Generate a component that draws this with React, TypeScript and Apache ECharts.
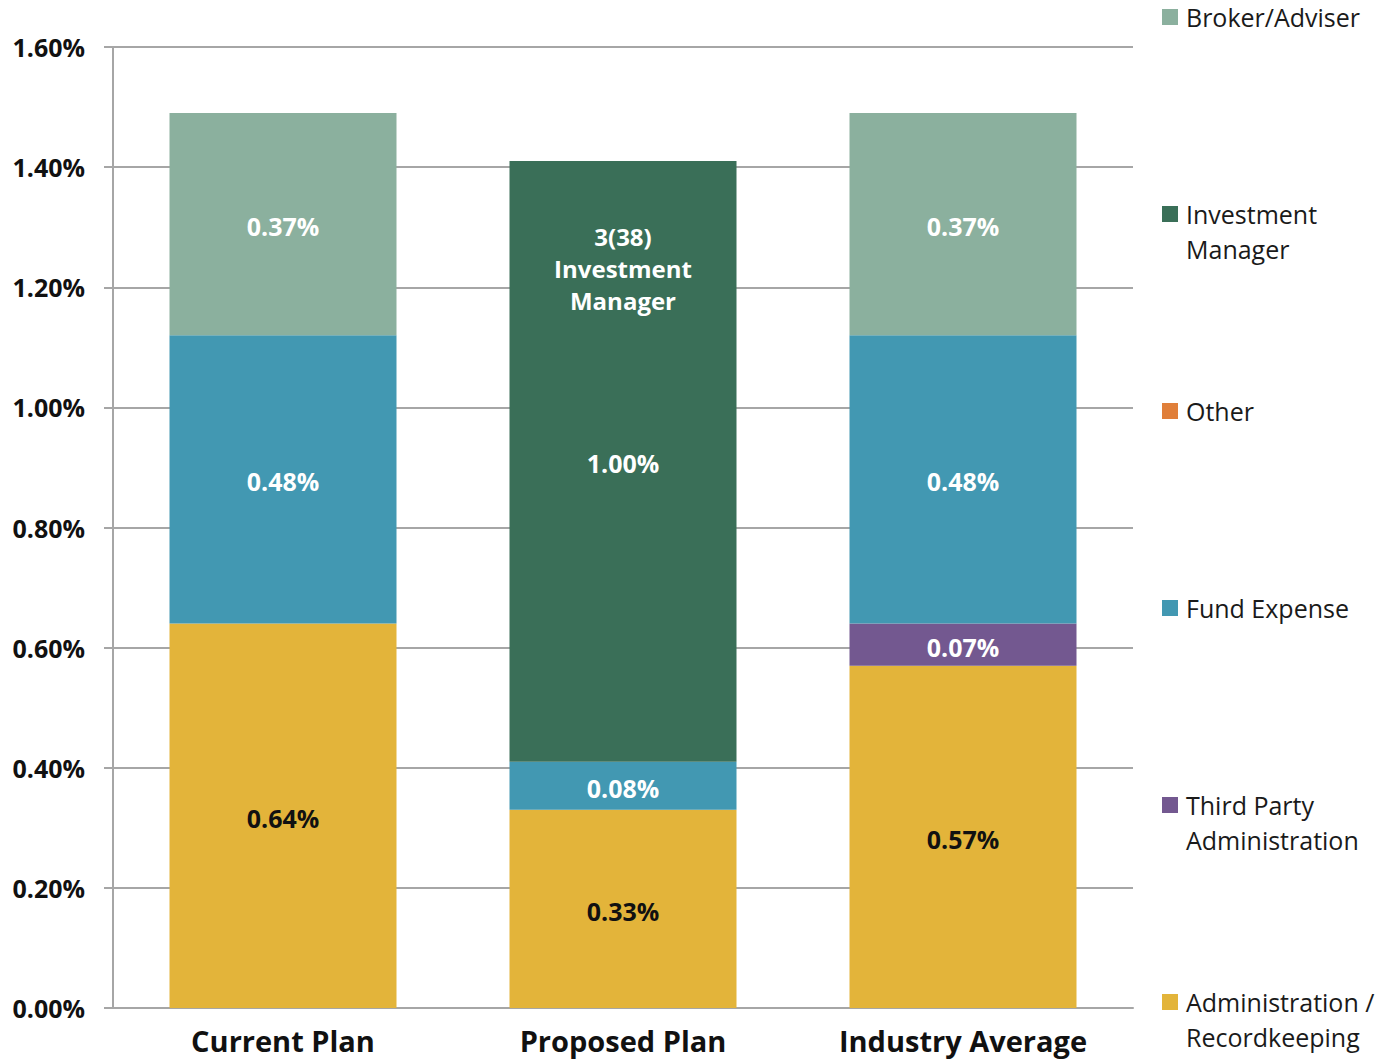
import React, { useEffect, useRef } from "react";
import * as echarts from "echarts";

const categories = ["Current Plan", "Proposed Plan", "Industry Average"];
const adminRecordkeeping = [0.64, 0.33, 0.57];
const thirdPartyAdmin = [null, null, 0.07];
const fundExpense = [0.48, 0.08, 0.48];
const otherFees = [null, null, null];
const investmentManager = [null, 1.0, null];
const brokerAdviser = [0.37, null, 0.37];
const yTicks = { min: 0, max: 1.6, interval: 0.2 };
const annotation = "3(38)\nInvestment\nManager";

const FONT = "'Open Sans', 'Noto Sans', sans-serif";

const seriesDefs = [
  { name: "Administration / Recordkeeping", legendText: "Administration /\nRecordkeeping", data: adminRecordkeeping, color: "#E3B43A", labelColor: "#111111" },
  { name: "Third Party Administration", legendText: "Third Party\nAdministration", data: thirdPartyAdmin, color: "#735890", labelColor: "#ffffff" },
  { name: "Fund Expense", legendText: "Fund Expense", data: fundExpense, color: "#4298B2", labelColor: "#ffffff" },
  { name: "Other", legendText: "Other", data: otherFees, color: "#E07F3A", labelColor: "#ffffff" },
  { name: "Investment Manager", legendText: "Investment\nManager", data: investmentManager, color: "#3A6F58", labelColor: "#ffffff" },
  { name: "Broker/Adviser", legendText: "Broker/Adviser", data: brokerAdviser, color: "#8BB09E", labelColor: "#ffffff" },
];

const legendOrder = ["Broker/Adviser", "Investment Manager", "Other", "Fund Expense", "Third Party Administration", "Administration / Recordkeeping"];

export default function App() {
  const ref = useRef<HTMLDivElement>(null);
  useEffect(() => {
    if (!ref.current) return;
    const chart = echarts.init(ref.current, null, { renderer: "svg" });
    const lineH = 35;
    const legendGraphics: any[] = [];
    legendOrder.forEach((name, i) => {
      const def = seriesDefs.find((d) => d.name === name)!;
      const cy = 17 + i * 197;
      legendGraphics.push({
        type: "rect",
        shape: { x: 1162, y: cy - 8, width: 16, height: 16 },
        style: { fill: def.color },
      });
      legendGraphics.push({
        type: "text",
        x: 1186,
        y: cy - lineH / 2,
        style: {
          text: def.legendText,
          fill: "#1a1a1a",
          font: `25px ${FONT}`,
          lineHeight: lineH,
          align: "left",
          verticalAlign: "top",
        },
      });
    });

    const series: any[] = seriesDefs.map((d) => ({
      name: d.name,
      type: "bar",
      stack: "total",
      data: d.data,
      barWidth: 227,
      itemStyle: { color: d.color },
      label: {
        show: true,
        position: "inside",
        offset: [0, 2],
        formatter: (p: any) => (p.value == null ? "" : Number(p.value).toFixed(2) + "%"),
        color: d.labelColor,
        fontFamily: FONT,
        fontWeight: "bold",
        fontSize: 25,
      },
    }));
    const im = series.find((s) => s.name === "Investment Manager");
    im.markPoint = {
      symbol: "rect",
      symbolSize: 1,
      itemStyle: { color: "rgba(0,0,0,0)" },
      data: [{ coord: ["Proposed Plan", 1.232] }],
      label: {
        show: true,
        position: "inside",
        formatter: annotation,
        color: "#ffffff",
        fontFamily: FONT,
        fontWeight: "bold",
        fontSize: 24,
        lineHeight: 32,
        align: "center",
      },
    };

    chart.setOption({
      animation: false,
      backgroundColor: "#ffffff",
      legend: { show: false },
      graphic: legendGraphics,
      grid: { left: 113, right: 260, top: 47, bottom: 55, containLabel: false },
      xAxis: {
        type: "category",
        data: categories,
        axisLine: { show: true, lineStyle: { color: "#A6A6A6", width: 2 } },
        axisTick: { show: false },
        axisLabel: {
          color: "#111111",
          fontFamily: FONT,
          fontWeight: "bold",
          fontSize: 29,
          margin: 18,
        },
      },
      yAxis: {
        type: "value",
        min: yTicks.min,
        max: yTicks.max,
        interval: yTicks.interval,
        axisLine: { show: true, lineStyle: { color: "#A6A6A6", width: 2 } },
        axisTick: { show: true, length: 9, lineStyle: { color: "#A6A6A6", width: 2 } },
        splitLine: { show: true, lineStyle: { color: "#A6A6A6", width: 2 } },
        axisLabel: {
          color: "#111111",
          fontFamily: FONT,
          fontWeight: "bold",
          fontSize: 25,
          margin: 28,
          formatter: (v: number) => v.toFixed(2) + "%",
        },
      },
      series,
    });
    return () => chart.dispose();
  }, []);
  return <div ref={ref} style={{ width: 1393, height: 1063, position: "absolute", left: 0, top: 0 }} />;
}
